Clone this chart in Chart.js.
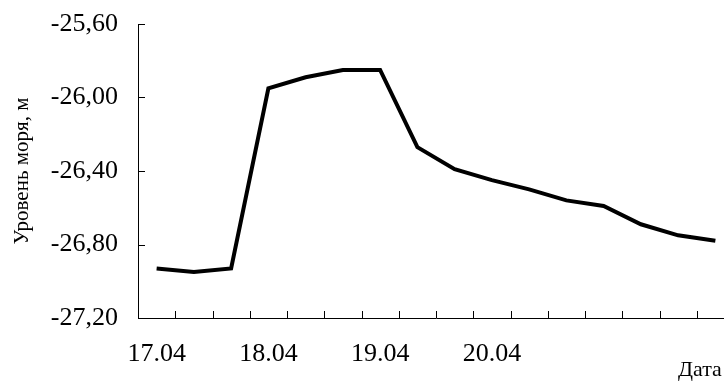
<!DOCTYPE html>
<html>
<head>
<meta charset="utf-8">
<style>
  html, body { margin: 0; padding: 0; background: #fff; overflow: hidden; }
  #wrap { width: 724px; height: 381px; overflow: hidden; }
</style>
<script src="https://cdn.jsdelivr.net/npm/chart.js@4"></script>
</head>
<body>
<div id="wrap"><canvas id="level-chart" width="744" height="381"></canvas></div>
<script>
  // 8-hourly observations, 17.04 - 21.04
  const dayLabels = ["17.04", "", "", "18.04", "", "", "19.04", "", "", "20.04", "", "", "", "", "", ""];
  const seaLevel = [
    -26.93, -26.95, -26.93, -25.95, -25.89, -25.85, -25.85, -26.27,
    -26.39, -26.45, -26.50, -26.56, -26.59, -26.69, -26.75, -26.78,
  ];
  const yMin = -27.2;
  const yMax = -25.6;
  const yStep = 0.4;

  const FONT = "'Liberation Serif', 'Times New Roman', serif";

  const fmtLevel = (v) => Number(v).toFixed(2).replace(".", ",");

  // ticks point inward, like the original spreadsheet chart
  const innerTicks = {
    id: "innerTicks",
    afterDraw(chart) {
      const { ctx, chartArea: a, scales } = chart;
      const x = scales.x;
      const y = scales.y;
      const len = 7;
      ctx.save();
      ctx.strokeStyle = "#000";
      ctx.lineWidth = 1;
      ctx.beginPath();
      y.ticks.forEach((t) => {
        const py = Math.round(y.getPixelForValue(t.value)) + 0.5;
        ctx.moveTo(a.left, py);
        ctx.lineTo(a.left + len, py);
      });
      const half = (x.getPixelForValue(1) - x.getPixelForValue(0)) / 2;
      for (let i = 0; i <= dayLabels.length; i++) {
        const px = Math.round(x.getPixelForValue(i) - half) + 0.5;
        ctx.moveTo(px, a.bottom);
        ctx.lineTo(px, a.bottom - len);
      }
      ctx.stroke();

      ctx.fillStyle = "#000";
      ctx.font = "22px " + FONT;
      ctx.textAlign = "left";
      ctx.textBaseline = "middle";
      ctx.fillText("Дата", a.right - 56, a.bottom + 52);
      ctx.restore();
    },
  };

  new Chart(document.getElementById("level-chart"), {
    type: "line",
    data: {
      labels: dayLabels,
      datasets: [
        {
          data: seaLevel,
          borderColor: "#000",
          borderWidth: 4,
          pointRadius: 0,
          tension: 0,
          fill: false,
        },
      ],
    },
    options: {
      responsive: false,
      animation: false,
      devicePixelRatio: 1,
      layout: { padding: { top: 24, right: 10, left: 0, bottom: 0 } },
      plugins: { legend: { display: false }, tooltip: { enabled: false } },
      scales: {
        x: {
          offset: true,
          grid: { display: false, drawTicks: false },
          border: { display: true, color: "#000", width: 1 },
          ticks: {
            autoSkip: false,
            maxRotation: 0,
            padding: 21,
            color: "#000",
            font: { family: FONT, size: 26 },
          },
          afterFit: (s) => { s.height = 63; },
        },
        y: {
          min: yMin,
          max: yMax,
          grid: { display: false, drawTicks: false },
          border: { display: true, color: "#000", width: 1 },
          ticks: {
            stepSize: yStep,
            padding: 20,
            color: "#000",
            font: { family: FONT, size: 26 },
            callback: (v) => fmtLevel(v),
          },
          title: {
            display: true,
            text: "Уровень моря, м",
            color: "#000",
            font: { family: FONT, size: 21 },
            padding: { top: 10, bottom: 0 },
          },
          afterFit: (s) => {
            s.width = 138;
            s.paddingTop = 0;
            s.paddingBottom = 0;
          },
        },
      },
    },
    plugins: [innerTicks],
  });
</script>
</body>
</html>
